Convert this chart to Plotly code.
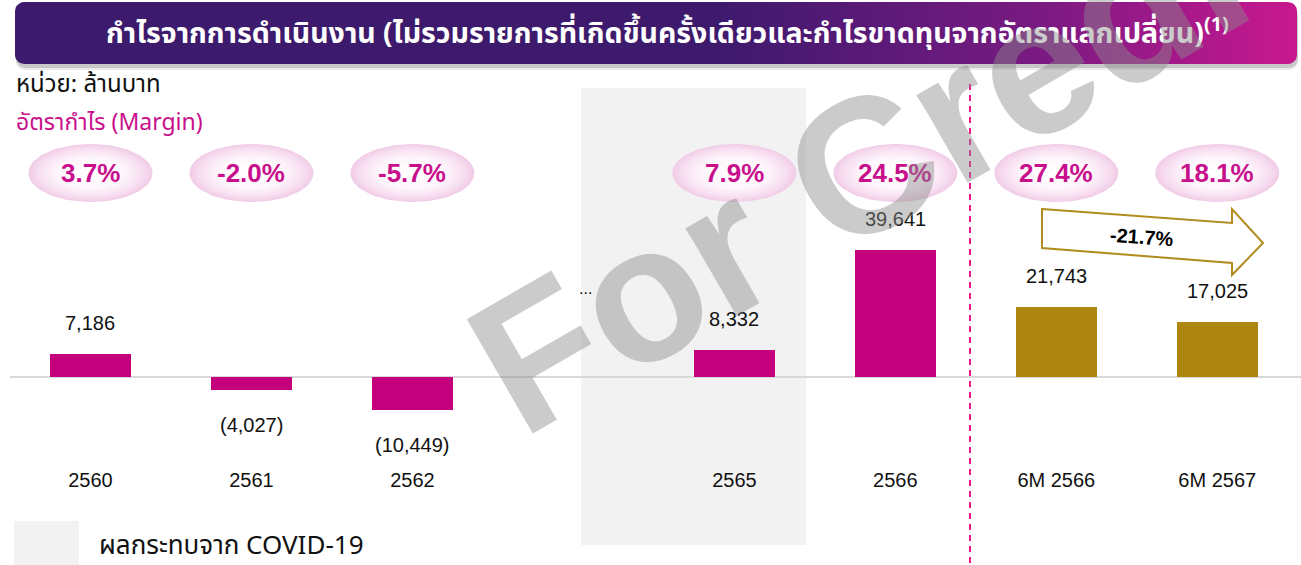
import numpy as np
import plotly.graph_objects as go

# data
categories = ["2560", "2561", "2562", "2565", "2566", "6M 2566", "6M 2567"]
slots = [0, 1, 2, 4, 5, 6, 7]
profit = [7186, -4027, -10449, 8332, 39641, 21743, 17025]
value_labels = ["7,186", "(4,027)", "(10,449)", "8,332", "39,641", "21,743", "17,025"]
margins = ["3.7%", "-2.0%", "-5.7%", "7.9%", "24.5%", "27.4%", "18.1%"]
bar_colors = ["#C5007C"] * 5 + ["#AD8610"] * 2
change_label = "-21.7%"

TITLE = "กำไรจากการดำเนินงาน (ไม่รวมรายการที่เกิดขึ้นครั้งเดียวและกำไรขาดทุนจากอัตราแลกเปลี่ยน)<sup>(1)</sup>"
UNIT = "หน่วย: ล้านบาท"
MARGIN_LBL = "อัตรากำไร (Margin)"
COVID_LBL = "ผลกระทบจาก COVID-19"

W, H = 1301, 565
X0 = 10            # left edge of bar area (px)
PLOT_BOTTOM = 466  # bottom of bar area (px)
XR = [-0.5, 7.52]
YR = [-27768, 117624]

FONT = "Liberation Sans, Arial, sans-serif"
THAI = "Tahoma, Leelawadee UI, Noto Sans Thai, Liberation Sans, sans-serif"
MAG = "#C8108C"


def px_x(s):
    return X0 + (s - XR[0]) / (XR[1] - XR[0]) * (W - X0)


def rounded_rect(x0, y0, x1, y1, r, n=8):
    xs, ys = [], []
    corners = [(x1 - r, y0 + r, -90, 0), (x1 - r, y1 - r, 0, 90),
               (x0 + r, y1 - r, 90, 180), (x0 + r, y0 + r, 180, 270)]
    for cx, cy, a0, a1 in corners:
        for a in np.linspace(np.radians(a0), np.radians(a1), n):
            xs.append(cx + r * np.cos(a))
            ys.append(cy + r * np.sin(a))
    xs.append(xs[0]); ys.append(ys[0])
    return xs, ys


fig = go.Figure()

# bars
fig.add_trace(go.Bar(x=slots, y=profit, marker_color=bar_colors, width=0.5,
                     marker_line_width=0, hoverinfo="skip", showlegend=False))

# value labels
for s, v, t in zip(slots, profit, value_labels):
    fig.add_annotation(x=s, y=v, text=t, showarrow=False, xref="x", yref="y",
                       yshift=31 if v > 0 else -35,
                       font=dict(family=FONT, size=20, color="#111111"))

# banner shadow + banner (pixel overlay axes)
for dx, dy, op in [(1, 6, 0.08), (1, 4, 0.15)]:
    sx, sy = rounded_rect(15 + dx, 2 + dy, 1297 + dx, 64 + dy, 9)
    fig.add_trace(go.Scatter(x=sx, y=sy, xaxis="x2", yaxis="y2", mode="lines",
                             fill="toself", fillcolor=f"rgba(0,0,0,{op})",
                             line_width=0, hoverinfo="skip", showlegend=False))
bx, by = rounded_rect(15, 2, 1297, 64, 9)
fig.add_trace(go.Scatter(
    x=bx, y=by, xaxis="x2", yaxis="y2", mode="lines", fill="toself",
    fillgradient=dict(type="horizontal",
                      colorscale=[[0, "#3C1A6C"], [0.55, "#3E1A6D"], [0.8, "#7A1A82"], [1, "#C9188F"]]),
    line_width=0, hoverinfo="skip", showlegend=False))

# margin ellipses
t = np.linspace(0, 2 * np.pi, 80)
for s, m in zip(slots, margins):
    cx = px_x(s)
    fig.add_trace(go.Scatter(
        x=cx + 62 * np.cos(t), y=173 + 29 * np.sin(t), xaxis="x2", yaxis="y2",
        mode="lines", fill="toself",
        fillgradient=dict(type="radial",
                          colorscale=[[0, "#FFFFFF"], [0.55, "#FDF5FB"], [0.85, "#F7DDF0"], [1, "#F0CBE6"]]),
        line_width=0, hoverinfo="skip", showlegend=False))
    fig.add_annotation(x=cx, y=173, xref="x2", yref="y2", text=f"<b>{m}</b>",
                       showarrow=False, font=dict(family=FONT, size=26, color=MAG))

shapes = [
    # covid band (paper ref so it sits under the bars)
    dict(type="rect", xref="paper", yref="paper", x0=581 / W, x1=806 / W,
         y0=1 - 545 / H, y1=1 - 88 / H, fillcolor="#F2F2F2", line_width=0, layer="below"),
    # legend swatch
    dict(type="rect", xref="paper", yref="paper", x0=14 / W, x1=79 / W,
         y0=0, y1=1 - 521 / H, fillcolor="#F2F2F2", line_width=0, layer="below"),
    # divider
    dict(type="line", xref="x2", yref="y2", x0=970, x1=970, y0=84, y1=565,
         line=dict(color="#F0148C", width=2, dash="6px,5px")),
    # arrow
    dict(type="path", xref="x2", yref="y2",
         path="M 1042 209 L 1232 223 L 1232 209 L 1263 243 L 1232 275 L 1232 263 L 1042 248 Z",
         fillcolor="white", line=dict(color="#B08C1E", width=2)),
]
fig.update_layout(shapes=shapes)

fig.add_annotation(x=1142, y=237, xref="x2", yref="y2", text=f"<b>{change_label}</b>",
                   showarrow=False, textangle=4, font=dict(family=FONT, size=20, color="black"))

# texts
fig.add_annotation(x=667, y=33, xref="x2", yref="y2", text=f"<b>{TITLE}</b>", showarrow=False,
                   font=dict(family=THAI, size=28.5, color="white"))
fig.add_annotation(x=14, y=85, xref="x2", yref="y2", text=UNIT, showarrow=False, xanchor="left",
                   font=dict(family=THAI, size=24, color="#111111"))
fig.add_annotation(x=14, y=123, xref="x2", yref="y2", text=MARGIN_LBL, showarrow=False, xanchor="left",
                   font=dict(family=THAI, size=23, color=MAG))
fig.add_annotation(x=97, y=546, xref="x2", yref="y2", text=COVID_LBL, showarrow=False, xanchor="left",
                   font=dict(family=THAI, size=26, color="#111111"))
fig.add_annotation(x=585, y=288, xref="x2", yref="y2", text="...", showarrow=False,
                   font=dict(family=FONT, size=16, color="#111111"))

# watermark
fig.add_annotation(x=885, y=153, xref="x2", yref="y2", text="<b>For Credit</b>", showarrow=False,
                   textangle=-30, font=dict(family=FONT, size=192, color="rgba(140,140,140,0.45)"))

fig.update_layout(
    width=W, height=H, margin=dict(l=0, r=0, t=0, b=0),
    paper_bgcolor="white", plot_bgcolor="rgba(0,0,0,0)",
    bargap=0,
    xaxis=dict(domain=[X0 / W, 1], range=XR, tickvals=slots, ticktext=categories,
               showgrid=False, zeroline=False, showline=False, ticks="",
               tickfont=dict(family=FONT, size=20, color="#111111")),
    yaxis=dict(domain=[(H - PLOT_BOTTOM) / H, 1], range=YR, showgrid=False,
               showticklabels=False, zeroline=True, zerolinecolor="#D9D9D9", zerolinewidth=2),
    xaxis2=dict(domain=[0, 1], range=[0, W], anchor="y2", visible=False),
    yaxis2=dict(domain=[0, 1], range=[H, 0], anchor="x2", visible=False),
)

fig.write_html("out.html", config={"displayModeBar": False},
               post_script="document.body.style.margin='0';")
